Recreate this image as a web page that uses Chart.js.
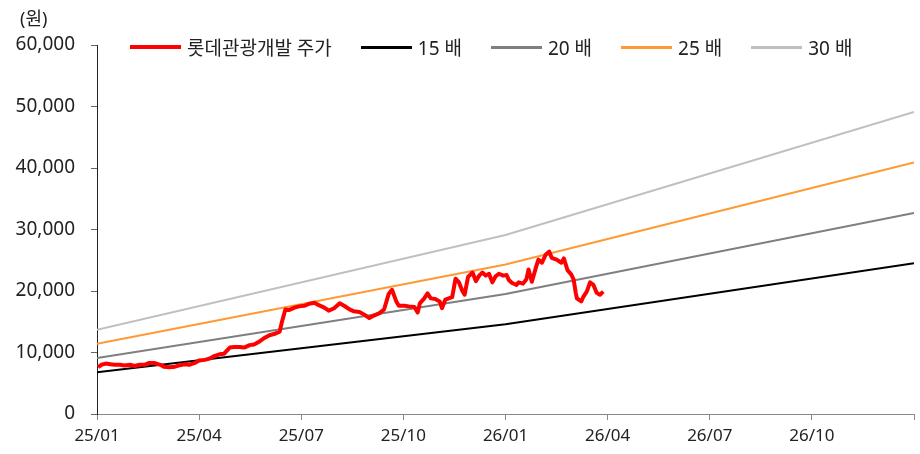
<!DOCTYPE html>
<html>
<head>
<meta charset="utf-8">
<script src="https://cdn.jsdelivr.net/npm/chart.js@4/dist/chart.umd.min.js"></script>
<style>
  body { margin: 0; background: #fff; font-family: 'Noto Sans', 'Noto Sans CJK KR', sans-serif; }
  #wrap { position: relative; width: 920px; height: 454px; }
  #unit { position: absolute; left: 20px; top: 4px; font-size: 18px; color: #222; }
  #legend { position: absolute; left: 130px; top: 33px; display: flex; align-items: center; font-size: 19px; color: #222; }
  .item { display: flex; align-items: center; margin-right: 29px; }
  .swatch { width: 51px; height: 3px; margin-right: 6px; }
</style>
</head>
<body>
<div id="wrap">
  <canvas id="chart" width="920" height="454"></canvas>
  <div id="unit">(원)</div>
  <div id="legend"></div>
</div>
<script>
// x axis ticks, every three months from 25/01
const tickLabels = ['25/01', '25/04', '25/07', '25/10', '26/01', '26/04', '26/07', '26/10', ''];

// PER band, read at the start of each year
const bandDates = ['2025-01-01', '2026-01-01', '2027-01-01'];
const per15 = [6800, 14600, 24500];
const per20 = [9100, 19500, 32700];
const per25 = [11400, 24300, 40900];
const per30 = [13700, 29100, 49100];

// share price (원)
const priceDates = [
  '2025-01-02', '2025-01-05', '2025-01-09', '2025-01-13', '2025-01-17', '2025-01-22', '2025-01-26', '2025-01-31',
  '2025-02-04', '2025-02-08', '2025-02-12', '2025-02-16', '2025-02-20', '2025-02-25', '2025-02-28',
  '2025-03-05', '2025-03-10', '2025-03-14', '2025-03-19', '2025-03-23', '2025-03-28',
  '2025-04-01', '2025-04-06', '2025-04-10', '2025-04-14', '2025-04-19', '2025-04-23', '2025-04-28',
  '2025-05-02', '2025-05-07', '2025-05-11', '2025-05-16', '2025-05-20', '2025-05-25', '2025-05-29',
  '2025-06-03', '2025-06-07', '2025-06-12', '2025-06-14', '2025-06-17', '2025-06-20', '2025-06-25', '2025-06-29',
  '2025-07-04', '2025-07-08', '2025-07-13', '2025-07-17', '2025-07-22', '2025-07-26', '2025-07-31',
  '2025-08-05', '2025-08-09', '2025-08-14', '2025-08-18', '2025-08-23', '2025-08-27',
  '2025-09-01', '2025-09-05', '2025-09-10', '2025-09-14', '2025-09-18', '2025-09-21', '2025-09-25', '2025-09-27',
  '2025-10-02', '2025-10-06', '2025-10-11', '2025-10-14', '2025-10-16', '2025-10-20', '2025-10-23', '2025-10-26', '2025-10-30',
  '2025-11-03', '2025-11-05', '2025-11-08', '2025-11-11', '2025-11-14', '2025-11-17', '2025-11-20', '2025-11-23', '2025-11-25', '2025-11-28',
  '2025-12-02', '2025-12-05', '2025-12-08', '2025-12-11', '2025-12-14', '2025-12-17', '2025-12-20', '2025-12-23', '2025-12-26', '2025-12-30',
  '2026-01-02', '2026-01-04', '2026-01-07', '2026-01-11', '2026-01-13', '2026-01-17', '2026-01-20', '2026-01-22', '2026-01-25', '2026-01-29', '2026-01-31',
  '2026-02-03', '2026-02-06', '2026-02-09', '2026-02-11', '2026-02-15', '2026-02-19', '2026-02-21', '2026-02-24', '2026-02-27',
  '2026-03-01', '2026-03-03', '2026-03-04', '2026-03-08', '2026-03-10', '2026-03-13', '2026-03-16', '2026-03-19', '2026-03-22', '2026-03-25', '2026-03-28'
];
const priceValues = [
  7600, 8000, 8200, 8100, 8000, 8000, 7900, 8000,
  7800, 8000, 8000, 8300, 8300, 8000, 7700,
  7600, 7700, 7900, 8100, 8000, 8300,
  8700, 8800, 9000, 9400, 9700, 9800, 10800,
  10900, 10900, 10800, 11200, 11300, 11800, 12300,
  12800, 13000, 13400, 15000, 17000, 16900, 17300, 17500,
  17600, 17900, 18100, 17700, 17300, 16800, 17200,
  18000, 17600, 17000, 16700, 16600, 16200,
  15600, 16000, 16400, 17000, 19500, 20200, 18200, 17600,
  17600, 17500, 17400, 16500, 18000, 18800, 19600, 18800, 18700,
  18300, 17200, 18600, 18800, 19000, 22000, 21400, 20000, 19400, 22300,
  23000, 21600, 22500, 23000, 22500, 22800, 21400, 22400, 22800, 22500,
  22600, 21800, 21300, 21000, 21400, 21200, 21900, 23500, 21500, 24000, 25100,
  24600, 25900, 26400, 25400, 25100, 24600, 25300, 23400, 22700,
  21900, 19700, 18800, 18300, 19100, 19900, 21400, 21000, 19700, 19400, 19900
];

function toMonth(s) {
  const [y, m, d] = s.split('-').map(Number);
  const days = new Date(y, m, 0).getDate();
  return (y - 2025) * 12 + (m - 1) + (d - 1) / days;
}
function pts(dates, vals) {
  return dates.map((d, i) => ({ x: toMonth(d), y: vals[i] }));
}

const series = [
  { label: '롯데관광개발 주가', data: pts(priceDates, priceValues), color: '#ff0000', width: 4 },
  { label: '15 배', data: pts(bandDates, per15), color: '#000000', width: 2 },
  { label: '20 배', data: pts(bandDates, per20), color: '#7f7f7f', width: 2 },
  { label: '25 배', data: pts(bandDates, per25), color: '#ff9933', width: 2 },
  { label: '30 배', data: pts(bandDates, per30), color: '#c0c0c0', width: 2 }
];

const legend = document.getElementById('legend');
series.forEach(s => {
  const item = document.createElement('div');
  item.className = 'item';
  item.innerHTML = '<span class="swatch" style="background:' + s.color + ';height:' + Math.min(s.width + 1, 4) + 'px"></span><span>' + s.label + '</span>';
  legend.appendChild(item);
});

const ctx = document.getElementById('chart').getContext('2d');
new Chart(ctx, {
  type: 'line',
  data: {
    datasets: series.map(s => ({
      label: s.label,
      data: s.data,
      borderColor: s.color,
      backgroundColor: s.color,
      borderWidth: s.width,
      borderJoinStyle: 'round',
      pointRadius: 0,
      tension: 0,
      fill: false
    }))
  },
  options: {
    responsive: false,
    animation: false,
    devicePixelRatio: 1,
    layout: { padding: { top: 45, right: 5, left: 0, bottom: 0 } },
    plugins: { legend: { display: false }, tooltip: { enabled: false } },
    scales: {
      x: {
        type: 'linear',
        min: 0,
        max: 24,
        afterBuildTicks: axis => { axis.ticks = tickLabels.map((t, i) => ({ value: i * 3 })); },
        afterFit: axis => { axis.height = 40; },
        ticks: {
          autoSkip: false,
          maxRotation: 0,
          padding: 6,
          color: '#222',
          font: { family: "'Liberation Sans Narrow', 'Noto Sans'", size: 17 },
          callback: v => tickLabels[Math.round(v / 3)]
        },
        grid: { drawOnChartArea: false, drawTicks: true, tickLength: 6, color: '#888' },
        border: { color: '#888', width: 1 }
      },
      y: {
        min: 0,
        max: 60000,
        afterFit: axis => { axis.width = 97; },
        ticks: {
          stepSize: 10000,
          padding: 16,
          color: '#222',
          font: { family: "'Noto Sans'", size: 19 },
          callback: v => v.toLocaleString('en-US')
        },
        grid: { drawOnChartArea: false, drawTicks: true, tickLength: 6, color: '#666' },
        border: { color: '#222', width: 1 }
      }
    }
  }
});
</script>
</body>
</html>
